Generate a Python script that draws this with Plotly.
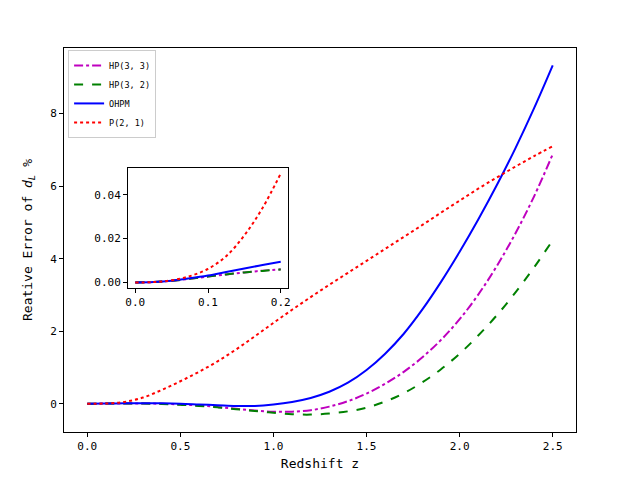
import plotly.graph_objects as go

# redshift grid (main panel)
z = [0.0, 0.1, 0.2, 0.3, 0.4, 0.5, 0.6, 0.7, 0.8, 0.9, 1.0, 1.1, 1.2,
     1.3, 1.4, 1.5, 1.6, 1.7, 1.8, 1.9, 2.0, 2.1, 2.2, 2.3, 2.4, 2.5]

hp33 = [0.0, 0.004, 0.006, 0.004, 0.0, -0.02, -0.05, -0.09, -0.14, -0.19,
        -0.22, -0.22, -0.18, -0.08, 0.07, 0.28, 0.55, 0.88, 1.28, 1.76,
        2.33, 3.01, 3.80, 4.70, 5.72, 6.88]
hp32 = [0.0, 0.003, 0.006, 0.004, -0.005, -0.03, -0.06, -0.10, -0.15, -0.20,
        -0.25, -0.29, -0.30, -0.27, -0.21, -0.11, 0.06, 0.29, 0.59, 0.95,
        1.38, 1.88, 2.44, 3.07, 3.76, 4.51]
ohpm = [0.0, 0.004, 0.010, 0.015, 0.010, 0.0, -0.02, -0.04, -0.06, -0.06,
        -0.02, 0.05, 0.16, 0.33, 0.58, 0.93, 1.38, 1.93, 2.60, 3.36,
        4.19, 5.08, 6.03, 7.05, 8.15, 9.33]
p21 = [0.0, 0.006, 0.05, 0.17, 0.38, 0.62, 0.88, 1.17, 1.50, 1.86,
       2.23, 2.59, 2.94, 3.28, 3.61, 3.94, 4.27, 4.60, 4.93, 5.27,
       5.60, 5.93, 6.24, 6.54, 6.83, 7.10]

# inset (low redshift zoom)
z_in = [0.0, 0.025, 0.05, 0.075, 0.1, 0.125, 0.15, 0.175, 0.2]
hp33_in = [0.0, 0.0002, 0.0008, 0.0017, 0.0027, 0.0037, 0.0046, 0.0054, 0.0060]
hp32_in = [0.0, 0.0002, 0.0008, 0.0017, 0.0027, 0.0037, 0.0046, 0.0053, 0.0059]
ohpm_in = [0.0, 0.0002, 0.0008, 0.0019, 0.0032, 0.0048, 0.0064, 0.0080, 0.0095]
p21_in = [0.0, 0.0002, 0.0010, 0.0029, 0.0062, 0.0120, 0.0215, 0.0340, 0.0497]

names = ['HP(3, 3)', 'HP(3, 2)', 'OHPM', 'P(2, 1)']
colors = ['#bf00bf', '#008000', '#0000ff', '#ff0000']
dashes = ['dashdot', 'dash', 'solid', 'dot']
main_series = [hp33, hp32, ohpm, p21]
inset_series = [hp33_in, hp32_in, ohpm_in, p21_in]

fig = go.Figure()
for name, col, dash, ys in zip(names, colors, dashes, main_series):
    fig.add_trace(go.Scatter(x=z, y=ys, mode='lines', name=name,
                             line=dict(color=col, dash=dash, width=2, shape='spline'),
                             xaxis='x', yaxis='y'))
for name, col, dash, ys in zip(names, colors, dashes, inset_series):
    fig.add_trace(go.Scatter(x=z_in, y=ys, mode='lines', name=name, showlegend=False,
                             line=dict(color=col, dash=dash, width=2, shape='spline'),
                             xaxis='x2', yaxis='y2'))

axis_style = dict(showline=True, mirror=True, linecolor='black', linewidth=1,
                  ticks='outside', ticklen=4, tickcolor='black',
                  showgrid=False, zeroline=False)

# page has an 8px body margin, so margins are shifted to keep the frame in place
fig.update_layout(
    width=640, height=480,
    margin=dict(l=56, r=72, t=40, b=56, autoexpand=False),
    paper_bgcolor='white', plot_bgcolor='white',
    font=dict(family='DejaVu Sans Mono', size=11, color='black'),
    xaxis=dict(domain=[0, 1], range=[-0.125, 2.625], tickvals=[0, 0.5, 1.0, 1.5, 2.0, 2.5],
               tickformat='.1f', title=dict(text='Redshift z', standoff=6), **axis_style),
    yaxis=dict(domain=[0, 1], range=[-0.78, 9.81], tickvals=[0, 2, 4, 6, 8],
               title=dict(text='Reative Error of <i>d</i><sub><i>L</i></sub> %', standoff=14),
               **axis_style),
    xaxis2=dict(domain=[0.125, 0.4375], anchor='y2', range=[-0.01, 0.21],
                tickvals=[0, 0.1, 0.2], tickformat='.1f', **axis_style),
    yaxis2=dict(domain=[0.375, 0.6875], anchor='x2', range=[-0.0025, 0.0522],
                tickvals=[0, 0.02, 0.04], tickformat='.2f', **axis_style),
    legend=dict(x=0.008, y=0.995, xanchor='left', yanchor='top',
                bgcolor='white', bordercolor='#cccccc', borderwidth=1,
                font=dict(size=8.5), tracegroupgap=0, itemwidth=30),
)

fig.write_html("out.html")
